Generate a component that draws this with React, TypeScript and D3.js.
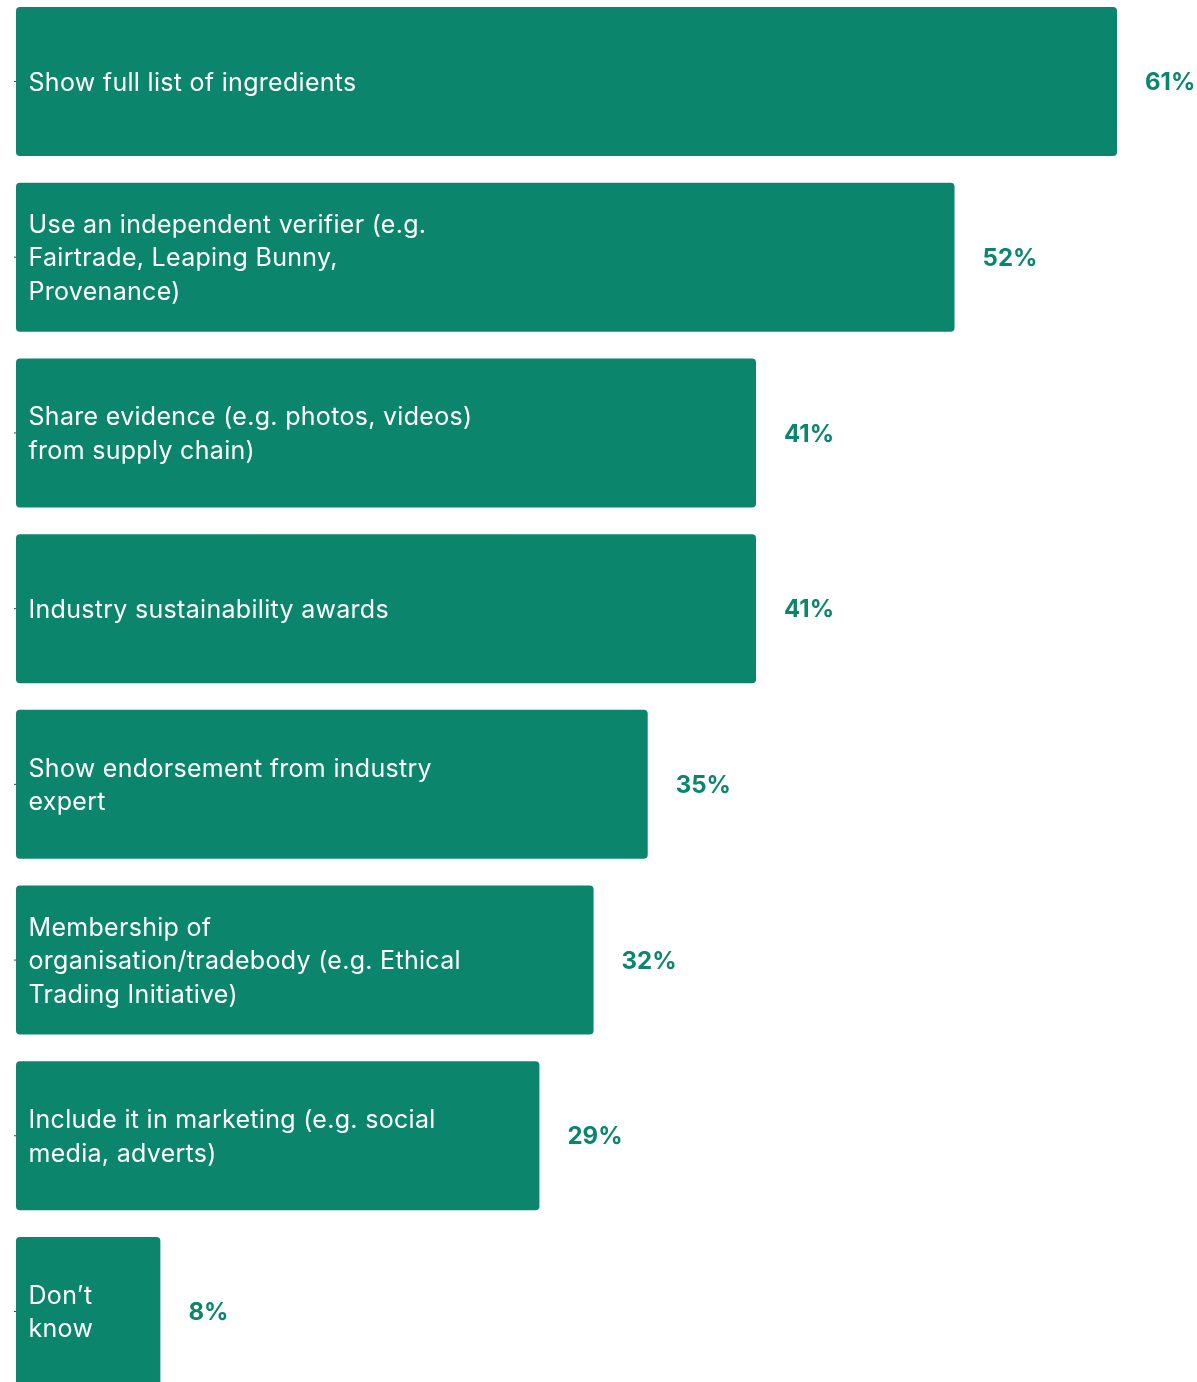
import React from "react";
import * as d3 from "d3";

const categories: string[][] = [
  ["Show full list of ingredients"],
  ["Use an independent verifier (e.g.", "Fairtrade, Leaping Bunny,", "Provenance)"],
  ["Share evidence (e.g. photos, videos)", "from supply chain)"],
  ["Industry sustainability awards"],
  ["Show endorsement from industry", "expert"],
  ["Membership of", "organisation/tradebody (e.g. Ethical", "Trading Initiative)"],
  ["Include it in marketing (e.g. social", "media, adverts)"],
  ["Don\u2019t", "know"],
];
const values: number[] = [61, 52, 41, 41, 35, 32, 29, 8];
const valueLabels: string[] = ["61%", "52%", "41%", "41%", "35%", "32%", "29%", "8%"];

const W = 1197;
const H = 1382;
const COLOR = "#0b866d";

export default function App() {
  const x = d3.scaleLinear().domain([0, 61]).range([16, 1117]);
  const y = d3
    .scaleBand<number>()
    .domain(d3.range(categories.length))
    .range([7, 1386])
    .paddingInner(0.152)
    .paddingOuter(0);
  const bh = y.bandwidth();
  return (
    <svg
      width={W}
      height={H}
      style={{ display: "block", position: "fixed", top: 0, left: 0, fontFamily: "Inter, sans-serif" }}
    >
      {values.map((v, i) => {
        const top = y(i)!;
        const cy = top + bh / 2;
        const lines = categories[i];
        const lh = 33.5;
        return (
          <g key={i}>
            <line x1={x(0) - 2} x2={x(0)} y1={cy} y2={cy} stroke="#444" strokeWidth={1} />
            <rect x={x(0)} y={top} width={x(v) - x(0)} height={bh} rx={4} ry={4} fill={COLOR} />
            {lines.map((l, j) => (
              <text
                key={j}
                x={x(0) + 12.5}
                y={cy + (j - (lines.length - 1) / 2) * lh}
                dy="0.36em"
                fill="#fff"
                fontSize={25}
                fontWeight={400}
                style={{ letterSpacing: "0.3px" }}
              >
                {l}
              </text>
            ))}
            <text
              x={x(v) + 28}
              y={cy}
              dy="0.36em"
              fill={COLOR}
              fontSize={24}
              fontWeight={700}
            >
              {valueLabels[i]}
            </text>
          </g>
        );
      })}
    </svg>
  );
}
